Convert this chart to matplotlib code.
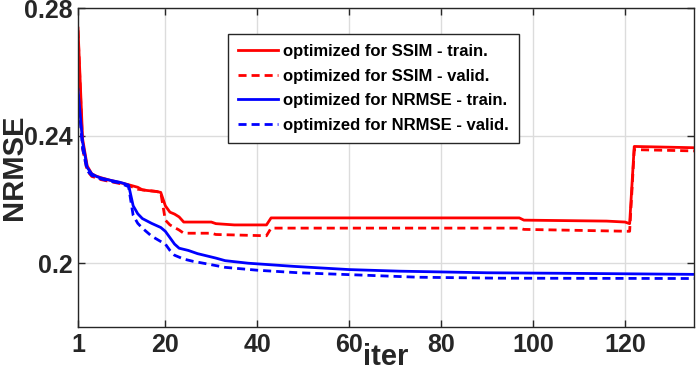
import matplotlib
matplotlib.use('Agg')
import matplotlib.pyplot as plt

# values (iteration, NRMSE)
ssim_train_x = [1, 2, 3, 4, 5, 6, 8, 10, 12, 14, 15, 16, 18, 19, 20, 21, 22, 23, 24, 30, 31, 35, 42, 43, 97, 98, 116, 120, 121, 122, 135]
ssim_train_y = [0.2737, 0.2390, 0.2305, 0.2280, 0.2273, 0.2268, 0.2260, 0.2253, 0.2246, 0.2238, 0.2230, 0.2228, 0.2225, 0.2222, 0.2180, 0.2160, 0.2154, 0.2145, 0.2129, 0.2129, 0.2124, 0.2120, 0.2120, 0.2142, 0.2142, 0.2135, 0.2132, 0.2129, 0.2124, 0.2366, 0.2362]

ssim_valid_x = [1, 2, 3, 4, 5, 6, 8, 10, 12, 14, 16, 18, 19, 20, 21, 23, 24, 30, 31, 42, 43, 97, 98, 121, 122, 135]
ssim_valid_y = [0.2730, 0.2360, 0.2290, 0.2272, 0.2268, 0.2262, 0.2256, 0.2250, 0.2244, 0.2232, 0.2228, 0.2225, 0.2222, 0.2135, 0.2120, 0.2104, 0.2094, 0.2094, 0.2090, 0.2086, 0.2110, 0.2110, 0.2106, 0.2100, 0.2356, 0.2352]

nrmse_train_x = [1, 2, 3, 4, 5, 6, 8, 10, 11, 12, 13, 14, 15, 17, 19, 20, 21, 22, 23, 25, 27, 31, 33, 38, 48, 60, 71, 90, 110, 135]
nrmse_train_y = [0.2545, 0.2380, 0.2300, 0.2280, 0.2272, 0.2267, 0.2260, 0.2254, 0.2250, 0.2245, 0.2180, 0.2155, 0.2140, 0.2125, 0.2112, 0.2100, 0.2080, 0.2060, 0.2047, 0.2040, 0.2030, 0.2016, 0.2008, 0.2000, 0.1990, 0.1980, 0.1975, 0.1970, 0.1968, 0.1965]

nrmse_valid_x = [1, 2, 3, 4, 6, 8, 10, 12, 13, 14, 15, 17, 19, 20, 21, 22, 24, 26, 29, 33, 40, 49, 64, 75, 93, 135]
nrmse_valid_y = [0.2530, 0.2360, 0.2290, 0.2275, 0.2264, 0.2257, 0.2252, 0.2240, 0.2150, 0.2125, 0.2110, 0.2085, 0.2068, 0.2060, 0.2040, 0.2025, 0.2013, 0.2006, 0.1998, 0.1987, 0.1978, 0.1970, 0.1962, 0.1956, 0.1953, 0.1952]

labels = ['optimized for SSIM - train.', 'optimized for SSIM - valid.',
          'optimized for NRMSE - train.', 'optimized for NRMSE - valid.']
x_ticks = [1, 20, 40, 60, 80, 100, 120]
y_ticks = [0.2, 0.24, 0.28]
y_tick_labels = ['0.2', '0.24', '0.28']

plt.rcParams['font.family'] = ['Liberation Sans', 'DejaVu Sans']
plt.rcParams['font.weight'] = 'bold'

fig = plt.figure(figsize=(6.97, 3.71), dpi=100)
ax = fig.add_axes([0.1119, 0.1186, 0.8838, 0.8598])

dash = (0, (2.9, 1.8))
ax.plot(ssim_train_x, ssim_train_y, color='#ff0000', lw=2, label=labels[0])
ax.plot(ssim_valid_x, ssim_valid_y, color='#ff0000', lw=2, ls=dash, label=labels[1])
ax.plot(nrmse_train_x, nrmse_train_y, color='#0000ff', lw=2, label=labels[2])
ax.plot(nrmse_valid_x, nrmse_valid_y, color='#0000ff', lw=2, ls=dash, label=labels[3])

ax.set_xlim(1, 135)
ax.set_ylim(0.18, 0.28)
ax.set_xticks(x_ticks)
ax.set_yticks(y_ticks)
ax.set_yticklabels(y_tick_labels)
ax.grid(True, color='#dcdcdc', lw=1)
ax.set_axisbelow(True)
ax.tick_params(direction='in', top=True, right=True, length=5, width=1,
               colors='#262626', labelsize=18, pad=4)
for s in ax.spines.values():
    s.set_color('#262626')
    s.set_linewidth(1)

ax.set_xlabel('iter', fontsize=21, fontweight='bold', color='#262626', labelpad=-10)
ax.set_ylabel('NRMSE', fontsize=21, fontweight='bold', color='#262626')
ax.yaxis.set_label_coords(-0.081, 0.5)

leg = ax.legend(loc='upper left', bbox_to_anchor=(0.2435, 0.9185),
                prop={'weight': 'bold', 'size': 12}, frameon=True, fancybox=False,
                edgecolor='#262626', framealpha=1, handlelength=2.4,
                labelspacing=0.57, borderpad=0.6, handletextpad=0.3, borderaxespad=0)
leg.get_frame().set_linewidth(1)

fig.savefig('out.png', dpi=100)
